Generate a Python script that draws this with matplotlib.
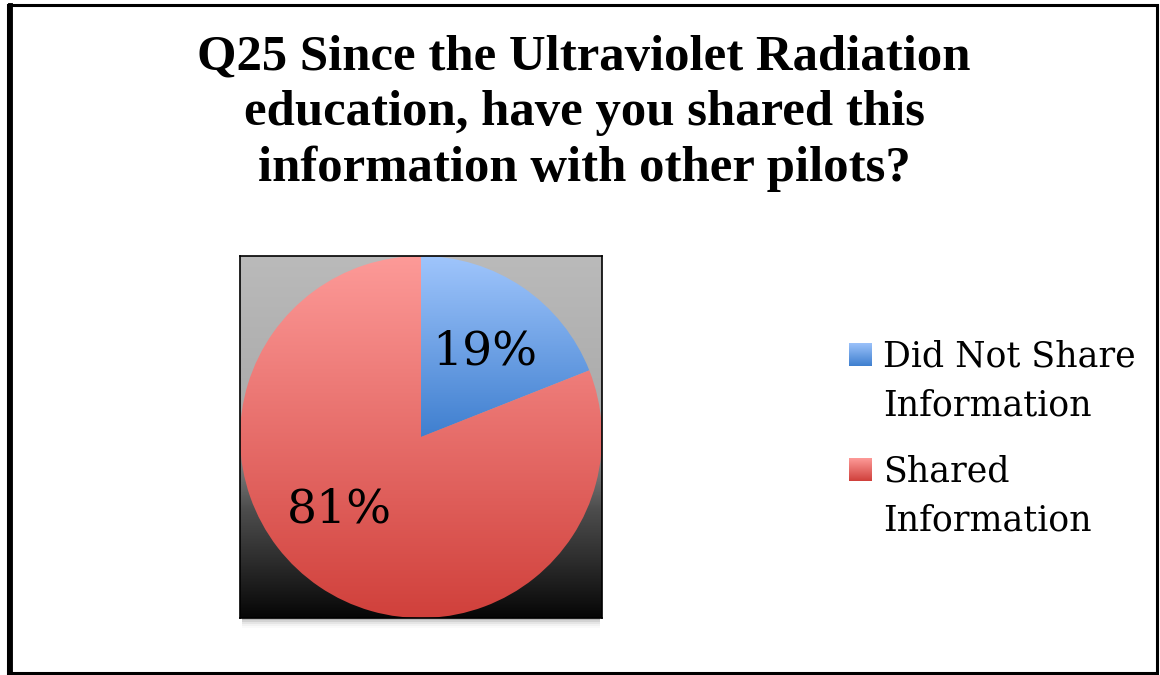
import numpy as np
import matplotlib
matplotlib.use("Agg")
import matplotlib.pyplot as plt
from matplotlib.colors import LinearSegmentedColormap
from matplotlib.patches import Rectangle

title = "Q25 Since the Ultraviolet Radiation\neducation, have you shared this\ninformation with other pilots?"
categories = ["Did Not Share\nInformation", "Shared\nInformation"]
values = [19, 81]
pct_labels = ["19%", "81%"]
# gradient (top, bottom) colours per slice
slice_grads = [("#9fc5fc", "#3f7fcf"), ("#fd9a98", "#d0403b")]

W, H = 1160, 675
fig = plt.figure(figsize=(W / 100, H / 100), dpi=100)
fig.patch.set_facecolor("white")

# outer border
fig.add_artist(Rectangle((7.5 / W, 2.0 / H), (1157 - 7.5) / W, (672 - 3.5) / H,
                         transform=fig.transFigure, fill=False, lw=2.2, ec="black"))
fig.add_artist(plt.Line2D([10 / W, 10 / W], [2.0 / H, 1 - 4.5 / H],
                          transform=fig.transFigure, lw=3.5, color="black"))

fig.text(584 / W, 1 - 113.5 / H, title, ha="center", va="center",
         fontsize=36.5, fontweight="bold", family="Liberation Serif", linespacing=1.27)

# plot area
x0, y0, side = 240, 256, 362
ax = fig.add_axes([x0 / W, 1 - (y0 + side) / H, side / W, side / H])

# drop shadow for plot area
for i, a in enumerate([0.12, 0.08, 0.05, 0.03, 0.02]):
    fig.add_artist(Rectangle(((x0 + 2) / W, 1 - (y0 + side + 2 + i * 2) / H),
                             (side - 4) / W, (side) / H, transform=fig.transFigure,
                             fc="black", ec="none", alpha=a, zorder=0))

bg_cmap = LinearSegmentedColormap.from_list(
    "bg", [(0.0, "#bababa"), (0.42, "#ababab"), (0.55, "#888888"),
           (0.7, "#4d4d4d"), (0.85, "#2b2b2b"), (1.0, "#060606")])
grad = np.linspace(0, 1, 256).reshape(-1, 1)
ax.imshow(grad, cmap=bg_cmap, extent=[-1, 1, -1, 1], aspect="auto",
          origin="upper", zorder=0)

wedges, _ = ax.pie(values, startangle=90, counterclock=False, radius=1.0,
                   wedgeprops=dict(lw=0), frame=True)
for w, (ctop, cbot) in zip(wedges, slice_grads):
    w.set_facecolor("none")
    w.set_zorder(2)
    path = w.get_path()
    verts = w.get_patch_transform().transform(path.vertices)
    ymin, ymax = verts[:, 1].min(), verts[:, 1].max()
    cm = LinearSegmentedColormap.from_list("w", [ctop, cbot])
    im = ax.imshow(grad, cmap=cm, extent=[-1, 1, ymin, ymax], aspect="auto",
                   origin="upper", zorder=1)
    im.set_clip_path(w)

# percentage labels
label_pos = [(0.35, 0.47), (-0.45, -0.40)]
for txt, (lx, ly) in zip(pct_labels, label_pos):
    ax.text(lx, ly, txt, ha="center", va="center", fontsize=34,
            family="DejaVu Serif", zorder=5)

ax.set_xlim(-1, 1)
ax.set_ylim(-1, 1)
ax.set_xticks([])
ax.set_yticks([])
for s in ax.spines.values():
    s.set_linewidth(1.2)
    s.set_color("black")
    s.set_zorder(6)

# legend (drawn manually so the marker sits on the first text line)
legend_sq = [343, 458]      # top of square, px
legend_txt = [381, 496]     # centre of two-line text block, px
for lab, (ctop, cbot), sq, tc in zip(categories, slice_grads, legend_sq, legend_txt):
    lax = fig.add_axes([849 / W, 1 - (sq + 23) / H, 23 / W, 23 / H])
    cm = LinearSegmentedColormap.from_list("h", [ctop, cbot])
    lax.imshow(grad, cmap=cm, extent=[0, 1, 0, 1], aspect="auto", origin="upper")
    lax.set_axis_off()
    fig.text(883 / W, 1 - tc / H, lab, ha="left", va="center", fontsize=25,
             family="DejaVu Serif", linespacing=1.58)

fig.savefig("out.png", dpi=100, facecolor="white")
